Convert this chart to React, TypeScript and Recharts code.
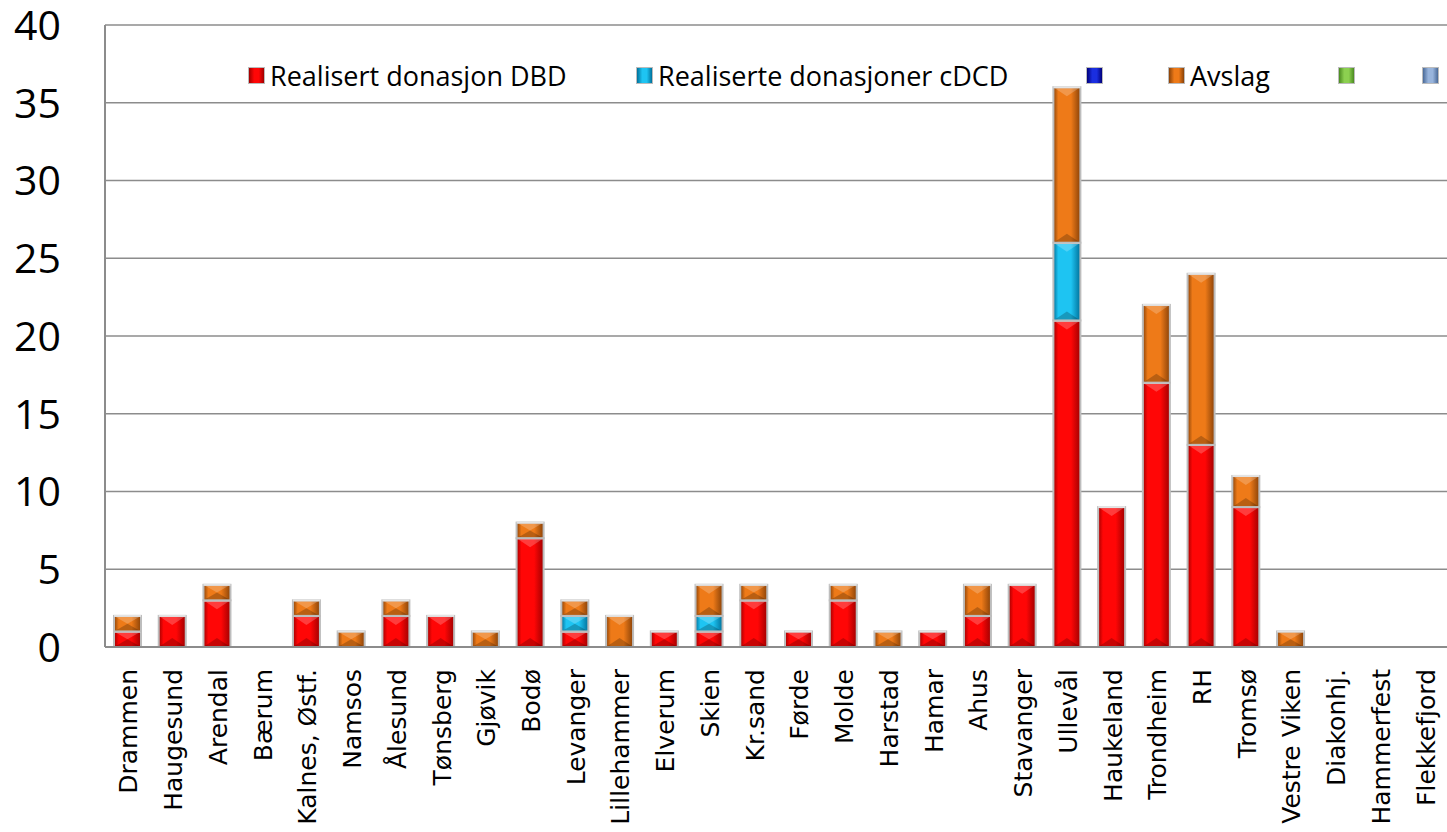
import React from "react";
import { BarChart, Bar, XAxis, YAxis, CartesianGrid, Legend } from "recharts";

const categories = [
  "Drammen", "Haugesund", "Arendal", "Bærum", "Kalnes, Østf.", "Namsos", "Ålesund",
  "Tønsberg", "Gjøvik", "Bodø", "Levanger", "Lillehammer", "Elverum", "Skien",
  "Kr.sand", "Førde", "Molde", "Harstad", "Hamar", "Ahus", "Stavanger", "Ullevål",
  "Haukeland", "Trondheim", "RH", "Tromsø", "Vestre Viken", "Diakonhj.", "Hammerfest",
  "Flekkefjord",
];

const dbd = [1, 2, 3, 0, 2, 0, 2, 2, 0, 7, 1, 0, 1, 1, 3, 1, 3, 0, 1, 2, 4, 21, 9, 17, 13, 9, 0, 0, 0, 0];
const cdcd = [0, 0, 0, 0, 0, 0, 0, 0, 0, 0, 1, 0, 0, 1, 0, 0, 0, 0, 0, 0, 0, 5, 0, 0, 0, 0, 0, 0, 0, 0];
const blank1 = [0, 0, 0, 0, 0, 0, 0, 0, 0, 0, 0, 0, 0, 0, 0, 0, 0, 0, 0, 0, 0, 0, 0, 0, 0, 0, 0, 0, 0, 0];
const avslag = [1, 0, 1, 0, 1, 1, 1, 0, 1, 1, 1, 2, 0, 2, 1, 0, 1, 1, 0, 2, 0, 10, 0, 5, 11, 2, 1, 0, 0, 0];
const blank2 = [0, 0, 0, 0, 0, 0, 0, 0, 0, 0, 0, 0, 0, 0, 0, 0, 0, 0, 0, 0, 0, 0, 0, 0, 0, 0, 0, 0, 0, 0];
const blank3 = [0, 0, 0, 0, 0, 0, 0, 0, 0, 0, 0, 0, 0, 0, 0, 0, 0, 0, 0, 0, 0, 0, 0, 0, 0, 0, 0, 0, 0, 0];

const yTicks = [0, 5, 10, 15, 20, 25, 30, 35, 40];

const series = [
  { key: "dbd", label: "Realisert donasjon DBD", dark: "#a00000", light: "#ff0606", left: 248 },
  { key: "cdcd", label: "Realiserte donasjoner cDCD", dark: "#00709a", light: "#1ec4f2", left: 636 },
  { key: "blank1", label: "", dark: "#00007a", light: "#1a2ee0", left: 1086 },
  { key: "avslag", label: "Avslag", dark: "#8a4208", light: "#ee7a18", left: 1168 },
  { key: "blank2", label: "", dark: "#4a8a20", light: "#8cd050", left: 1338 },
  { key: "blank3", label: "", dark: "#4a6a98", light: "#98b4dc", left: 1422 },
];

const data = categories.map((name, i) => ({
  name,
  dbd: dbd[i],
  cdcd: cdcd[i],
  blank1: blank1[i],
  avslag: avslag[i],
  blank2: blank2[i],
  blank3: blank3[i],
}));

const XTick = ({ x, y, payload }: any) => (
  <text
    transform={`translate(${x + 1},${y + 14}) rotate(-90)`}
    textAnchor="end"
    dy="0.36em"
    fontFamily="DejaVu Sans"
    fontSize={25}
    fill="#000"
  >
    {payload.value}
  </text>
);

const YTick = ({ y, payload }: any) => (
  <text x={61} y={y} dy="0.36em" textAnchor="end" fontFamily="Open Sans" fontSize={41} fill="#000">
    {payload.value}
  </text>
);

const BevelBar = (props: any) => {
  const { x, y, width: w, height: h, seriesKey } = props;
  if (!h || h <= 0) return null;
  const by = Math.min(9, h / 2);
  const bx = w / 2;
  return (
    <g>
      <rect x={x} y={y} width={w} height={h} fill={`url(#g-${seriesKey})`} />
      <polygon
        points={`${x},${y} ${x + w},${y} ${x + w - bx},${y + by} ${x + bx},${y + by}`}
        fill="#fff"
        fillOpacity={0.22}
      />
      <polygon
        points={`${x},${y + h} ${x + w},${y + h} ${x + w - bx},${y + h - by} ${x + bx},${y + h - by}`}
        fill="#000"
        fillOpacity={0.22}
      />
      <rect x={x} y={y} width={w} height={h} fill="none" stroke="#bdbdbd" strokeWidth={2} />
      <line x1={x} y1={y} x2={x + w} y2={y} stroke="#e4e4e4" strokeWidth={2} />
    </g>
  );
};

const LegendBox = () => (
  <div
    style={{
      position: "relative",
      height: 34,
      fontFamily: "Open Sans",
      fontSize: 27,
      color: "#000",
      whiteSpace: "nowrap",
    }}
  >
    {series.map((s) => (
      <div
        key={s.key}
        style={{ position: "absolute", left: s.left, top: 0, display: "flex", alignItems: "center", gap: 5, height: 34 }}
      >
        <span
          style={{
            width: 15,
            height: 15,
            display: "inline-block",
            border: "1px solid #bbb",
            background: `linear-gradient(90deg, ${s.dark}, ${s.light} 35%, ${s.light} 65%, ${s.dark})`,
          }}
        />
        {s.label && <span>{s.label}</span>}
      </div>
    ))}
  </div>
);

export default function App() {
  return (
    <div style={{ position: "absolute", left: 0, top: 0, width: 1447, height: 832, background: "#fff" }}>
      <BarChart
        width={1447}
        height={832}
        data={data}
        margin={{ top: 25, right: 0, bottom: 0, left: 0 }}
        barSize={27}
      >
        <defs>
          {series.map((s) => (
            <linearGradient key={s.key} id={`g-${s.key}`} x1="0" y1="0" x2="1" y2="0">
              <stop offset="0%" stopColor={s.dark} />
              <stop offset="18%" stopColor={s.light} />
              <stop offset="65%" stopColor={s.light} />
              <stop offset="100%" stopColor={s.dark} />
            </linearGradient>
          ))}
        </defs>
        <CartesianGrid vertical={false} stroke="#8c8c8c" strokeWidth={1.5} />
        <XAxis
          dataKey="name"
          interval={0}
          height={185}
          tick={<XTick />}
          tickLine={false}
          axisLine={{ stroke: "#8c8c8c", strokeWidth: 2 }}
        />
        <YAxis
          width={105}
          domain={[0, 40]}
          ticks={yTicks}
          tick={<YTick />}
          tickLine={false}
          axisLine={{ stroke: "#8c8c8c", strokeWidth: 2 }}
        />
        <Legend
          verticalAlign="middle"
          wrapperStyle={{ top: 58, left: 0, width: 1447 }}
          content={<LegendBox />}
        />
        {series.map((s) => (
          <Bar
            key={s.key}
            dataKey={s.key}
            name={s.label || s.key}
            stackId="a"
            fill={`url(#g-${s.key})`}
            shape={(p: any) => <BevelBar {...p} seriesKey={s.key} />}
            isAnimationActive={false}
          />
        ))}
      </BarChart>
    </div>
  );
}
